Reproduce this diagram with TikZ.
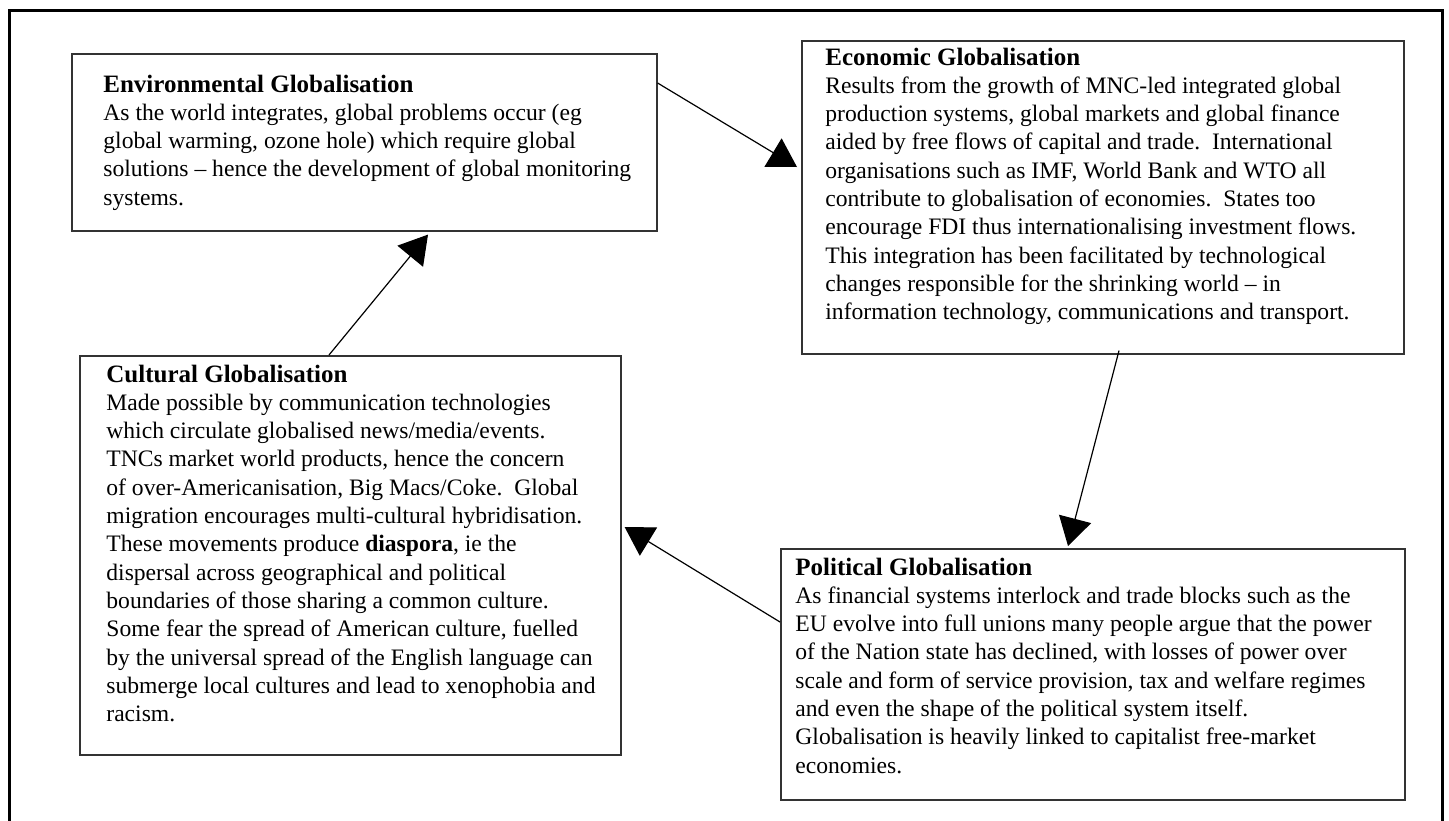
\documentclass[tikz,border=0pt]{standalone}
\usepackage{fontspec}
\setmainfont{Liberation Serif}
\usetikzlibrary{
		calc,
		positioning,
		arrows.meta
	}
\tikzset{
		>={Triangle[length=14pt,width=16.5pt]}
	}
\newcommand{\gtitle}[1]{{\fontsize{12.5}{14.15}\selectfont\bfseries #1}}

\begin{document}
\begin{tikzpicture}
		[x=0.5pt, y=-0.5pt,
		gbox/.style= {draw=black!80, line width=0.8pt, anchor=north west, inner sep=0pt},
		gtext/.style= {anchor=base west, align=left, inner sep=0pt, font=\fontsize{11.8}{14.15}\selectfont},
		conn/.style= {->, line width=0.6pt},
		frame/.style= {line width=1.5pt}
		]

		\useasboundingbox (0,0) rectangle (1449,820);
		\draw [frame] (9,825) -- (9,10) -- (1442,10) -- (1442,825);

		% boxes
		\node [gbox] (env) at (71,53) [minimum width=292.5pt, minimum height=88.5pt] {};
		\node [gbox] (econ) at (801,40) [minimum width=301pt, minimum height=156.5pt] {};
		\node [gbox] (cult) at (79,355) [minimum width=270.5pt, minimum height=199.5pt] {};
		\node [gbox] (pol) at (780,548) [minimum width=312pt, minimum height=125.5pt] {};

		% texts (base = last line)
		\node [gtext] (envtxt) at ($(env.north west)+(32,152.2)$) {\gtitle{Environmental Globalisation}\\
			As the world integrates, global problems occur (eg\\
			global warming, ozone hole) which require global\\
			solutions -- hence the development of global monitoring\\
			systems.};
		\node [gtext] (econtxt) at ($(econ.north west)+(24,279.7)$) {\gtitle{Economic Globalisation}\\
			Results from the growth of MNC-led integrated global\\
			production systems, global markets and global finance\\
			aided by free flows of capital and trade.\ \ International\\
			organisations such as IMF, World Bank and WTO all\\
			contribute to globalisation of economies.\ \ States too\\
			encourage FDI thus internationalising investment flows.\\
			This integration has been facilitated by technological\\
			changes responsible for the shrinking world -- in\\
			information technology, communications and transport.};
		\node [gtext] (culttxt) at ($(cult.north west)+(27,366.6)$) {\gtitle{Cultural Globalisation}\\
			Made possible by communication technologies\\
			which circulate globalised news/media/events.\\
			TNCs market world products, hence the concern\\
			of over-Americanisation, Big Macs/Coke.\ \ Global\\
			migration encourages multi-cultural hybridisation.\\
			These movements produce \textbf{diaspora}, ie the\\
			dispersal across geographical and political\\
			boundaries of those sharing a common culture.\\
			Some fear the spread of American culture, fuelled\\
			by the universal spread of the English language can\\
			submerge local cultures and lead to xenophobia and\\
			racism.};
		\node [gtext] (poltxt) at ($(pol.north west)+(15,225.1)$) {\gtitle{Political Globalisation}\\
			As financial systems interlock and trade blocks such as the\\
			EU evolve into full unions many people argue that the power\\
			of the Nation state has declined, with losses of power over\\
			scale and form of service provision, tax and welfare regimes\\
			and even the shape of the political system itself.\\
			Globalisation is heavily linked to capitalist free-market\\
			economies.};

		% cycle
		\draw [conn] ($(env.north east)+(0,30)$) -- ($(econ.north west)+(-4,127)$);
		\draw [conn] ($(econ.south west)+(318,-4)$) -- ($(pol.north west)+(288,-2)$);
		\draw [conn] ($(pol.north west)+(0,74)$) -- ($(cult.north east)+(3,172)$);
		\draw [conn] ($(cult.north west)+(250,0)$) -- ($(env.south west)+(357,3)$);

	\end{tikzpicture}
\end{document}
